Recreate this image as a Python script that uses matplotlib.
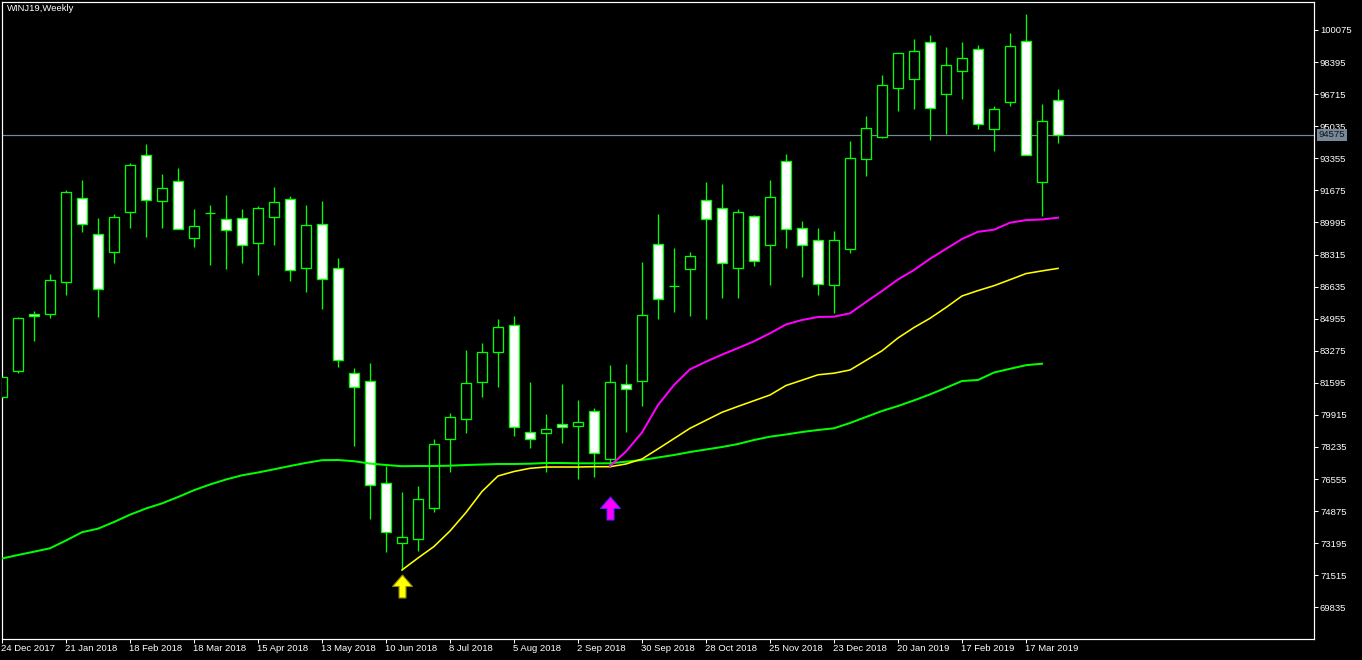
import matplotlib
matplotlib.use("Agg")
import matplotlib.pyplot as plt
from matplotlib.patches import Rectangle
from matplotlib.path import Path
import matplotlib.transforms as mtransforms

# ---------------- data ----------------
title = "WINJ19,Weekly"

opens = [80850, 82230, 85185, 85185, 86860, 91260, 89375, 88460, 90525, 93510,
         91100, 92150, 89195, 90505, 90160, 90210, 88900, 90295, 91205, 87590,
         89895, 87590, 82090, 81705, 76330, 73190, 73430, 75055, 78635, 79685,
         81620, 83225, 84605, 79000, 78950, 79455, 79350, 80100, 77590, 81515,
         81705, 88880, 86665, 87540, 91155, 90735, 87590, 90315, 88830, 93195,
         89690, 89060, 86735, 88620, 93300, 94485, 97050, 97490, 99430, 96740,
         97910, 99065, 94875, 96290, 99485, 92130, 96390]
highs = [82005, 85025, 85340, 87295, 91695, 92220, 90210, 90435, 93110, 94105,
         92530, 92845, 90685, 90910, 91430, 90700, 90855, 91850, 91380, 90910,
         91120, 88130, 82355, 82615, 77255, 75860, 76190, 78650, 79995, 83315,
         83665, 84935, 85095, 81635, 79960, 81530, 80695, 80260, 82525, 82565,
         87920, 90435, 88655, 88445, 92115, 92010, 90700, 90385, 92220, 93580,
         90070, 89690, 89545, 94260, 95570, 97700, 98855, 99605, 99815, 99185,
         99445, 99290, 96095, 99915, 100915, 96200, 96985]
lows = [80745, 82125, 83800, 85005, 86210, 89510, 85055, 87885, 89720, 89250,
        89720, 89650, 88725, 87765, 87570, 87885, 87255, 88830, 86945, 86365,
        85475, 82440, 78300, 74460, 72750, 71790, 72800, 74845, 76940, 78950,
        80865, 81390, 78825, 78195, 76940, 78455, 76540, 76675, 77200, 79035,
        80395, 84935, 85320, 85110, 84935, 86055, 86055, 87730, 86720, 88670,
        87150, 86210, 85265, 88410, 92445, 94435, 95850, 95920, 94315, 94625,
        96460, 94890, 93735, 96095, 93510, 90350, 94170]
closes = [81900, 84975, 85080, 86965, 91575, 89895, 86490, 90265, 92990, 91185,
          91785, 89665, 89790, 90505, 89585, 88795, 90735, 91050, 87490, 89845,
          87015, 82775, 81360, 76225, 73765, 73535, 75495, 78375, 79820, 81570,
          83195, 84500, 79265, 78635, 79160, 79265, 79525, 77900, 81620, 81255,
          85130, 85970, 86665, 88220, 90160, 87885, 90525, 87990, 91310, 89665,
          88830, 86785, 89060, 93355, 94925, 97180, 98855, 98990, 95975, 98225,
          98590, 95135, 95920, 99220, 93510, 95290, 94575]

# moving averages (green from bar 0, yellow from bar 25, magenta from bar 38)
ma_green = [72392, 72575, 72748, 72926, 73335, 73769, 73953, 74304, 74686, 75011,
            75278, 75613, 75969, 76268, 76530, 76750, 76896, 77064, 77237, 77399,
            77541, 77551, 77488, 77363, 77289, 77226, 77237, 77237, 77253, 77289,
            77315, 77341, 77341, 77357, 77394, 77394, 77378, 77378, 77378, 77462,
            77551, 77682, 77813, 77970, 78101, 78232, 78389, 78599, 78772, 78887,
            79018, 79123, 79212, 79489, 79804, 80118, 80380, 80673, 80987, 81333,
            81689, 81742, 82134, 82328, 82517, 82595]
ma_yellow_start = 25
ma_yellow = [71790, 72418, 73020, 73832, 74801, 75901, 76713, 76949, 77116, 77184,
             77184, 77184, 77200, 77200, 77342, 77604, 78133, 78672, 79212, 79631,
             80050, 80359, 80657, 80956, 81453, 81731, 82014, 82098, 82265, 82768,
             83271, 83942, 84491, 84973, 85539, 86142, 86424, 86681, 86995, 87315,
             87456, 87587]
ma_magenta_start = 38
ma_magenta = [77237, 77996, 78992, 80432, 81480, 82302, 82700, 83072, 83412, 83769,
              84188, 84649, 84884, 85041, 85057, 85235, 85827, 86403, 87006, 87503,
              88090, 88609, 89127, 89504, 89614, 89981, 90117, 90149, 90243]

arrow_bars = [25, 38]
arrow_prices = [70930, 75020]
arrow_colors = ["#ffff00", "#ff00ff"]
arrow_edges = ["#8a8a00", "#5a20ff"]

bid_price = 94575

y_ticks = [100075, 98395, 96715, 95035, 93355, 91675, 89995, 88315, 86635,
           84955, 83275, 81595, 79915, 78235, 76555, 74875, 73195, 71515, 69835]
x_tick_bars = [0, 4, 8, 12, 16, 20, 24, 28, 32, 36, 40, 44, 48, 52, 56, 60, 64]
x_tick_labels = ["24 Dec 2017", "21 Jan 2018", "18 Feb 2018", "18 Mar 2018",
                 "15 Apr 2018", "13 May 2018", "10 Jun 2018", "8 Jul 2018",
                 "5 Aug 2018", "2 Sep 2018", "30 Sep 2018", "28 Oct 2018",
                 "25 Nov 2018", "23 Dec 2018", "20 Jan 2019", "17 Feb 2019",
                 "17 Mar 2019"]

# ---------------- figure ----------------
W, H, DPI = 1362, 660, 100
fig = plt.figure(figsize=(W / DPI, H / DPI), dpi=DPI, facecolor="black")
ax_left, ax_right, ax_top, ax_bot = 2, 1314, 2, 639
ax = fig.add_axes([ax_left / W, (H - ax_bot) / H,
                   (ax_right - ax_left) / W, (ax_bot - ax_top) / H])
ax.set_facecolor("black")

FONT = "Liberation Sans"
FS = 6.8
GREEN = "#00ff00"
px = 72.0 / DPI  # one pixel in points

body_w = 0.58
for i, (o, h, l, c) in enumerate(zip(opens, highs, lows, closes)):
    ax.vlines(i, l, h, color=GREEN, lw=1.3 * px, zorder=2)
    bottom = min(o, c)
    height = abs(c - o)
    face = "white" if c < o else "black"
    ax.add_patch(Rectangle((i - body_w / 2, bottom), body_w, height,
                           facecolor=face, edgecolor=GREEN, lw=1.3 * px,
                           zorder=3))

ax.plot(range(len(ma_green)), ma_green, color=GREEN, lw=2 * px, zorder=4)
ax.plot(range(ma_yellow_start, ma_yellow_start + len(ma_yellow)), ma_yellow,
        color="#ffff00", lw=1.6 * px, zorder=4)
ax.plot(range(ma_magenta_start, ma_magenta_start + len(ma_magenta)), ma_magenta,
        color="#ff00ff", lw=2 * px, zorder=4)

# arrows
arrow_verts = [(0, 11.5), (10, 0), (3.5, 0), (3.5, -11.5), (-3.5, -11.5),
               (-3.5, 0), (-10, 0), (0, 11.5)]
arrow_codes = [Path.MOVETO] + [Path.LINETO] * 6 + [Path.CLOSEPOLY]
arrow_path = Path(arrow_verts, arrow_codes)
for b, p, fc, ec in zip(arrow_bars, arrow_prices, arrow_colors, arrow_edges):
    ax.plot([b], [p], marker=arrow_path, markersize=23 * px, color=fc,
            markerfacecolor=fc, markeredgecolor=ec, markeredgewidth=0.8,
            linestyle="none", zorder=5)

# bid line
ax.axhline(bid_price, color="#778899", lw=1.2 * px, zorder=1)

ax.set_xlim(0, 82)
ax.set_ylim(68175, 101541)

for s in ax.spines.values():
    s.set_color("white")
    s.set_linewidth(1.2 * px)

ax.yaxis.tick_right()
ax.set_yticks(y_ticks)
ax.set_yticklabels([str(v) for v in y_ticks])
ax.tick_params(axis="y", colors="white", direction="out", length=4 * px,
               width=1 * px, pad=2 * px, labelsize=FS)
ax.set_xticks(x_tick_bars)
ax.set_xticklabels(x_tick_labels)
ax.tick_params(axis="x", colors="white", direction="out", length=4 * px,
               width=1 * px, pad=1, labelsize=FS)
for lab in ax.get_xticklabels():
    lab.set_horizontalalignment("left")
    lab.set_fontfamily(FONT)
    lab.set_transform(lab.get_transform() +
                      mtransforms.ScaledTranslation(-1 / DPI, 0, fig.dpi_scale_trans))
for lab in ax.get_yticklabels():
    lab.set_fontfamily(FONT)

# bid price label
ax.text(1.0 + 4.5 / (ax_right - ax_left), bid_price, str(bid_price),
        transform=mtransforms.blended_transform_factory(ax.transAxes, ax.transData),
        ha="left", va="center", fontsize=FS, family=FONT, color="#111111",
        bbox=dict(boxstyle="square,pad=0.2", fc="#778899", ec="none"),
        clip_on=False, zorder=10)

fig.text(7 / W, 1 - 4 / H, title, ha="left", va="top", color="white",
         fontsize=FS, family=FONT)

fig.savefig("out.png", dpi=DPI, facecolor="black")
